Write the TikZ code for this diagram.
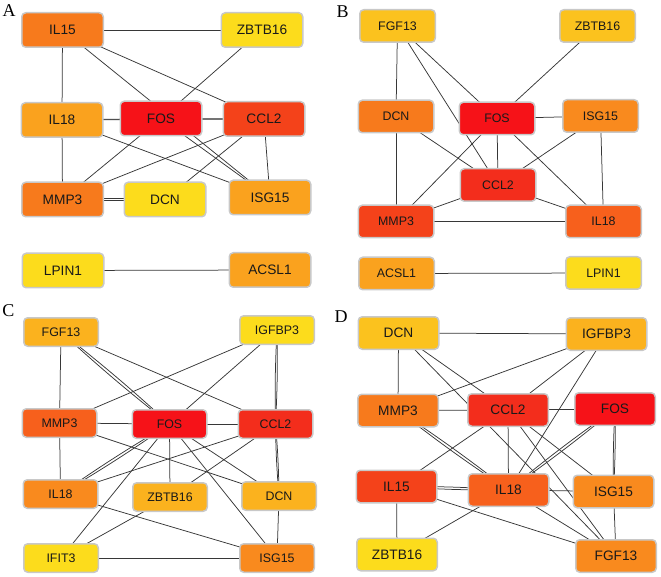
\documentclass[tikz,border=0pt]{standalone}
\usepackage{fontspec}
\setsansfont{Liberation Sans}
\newfontfamily\letterfont{Liberation Serif}
\usepackage{xcolor}
\usepackage{tikz}
\usetikzlibrary{backgrounds}
\definecolor{rim}{RGB}{200,200,200}
\definecolor{wire}{RGB}{55,55,55}
\definecolor{heatA}{RGB}{246,18,24}
\definecolor{heatB}{RGB}{243,45,28}
\definecolor{heatC}{RGB}{244,66,26}
\definecolor{heatD}{RGB}{247,96,28}
\definecolor{heatE}{RGB}{247,122,28}
\definecolor{heatF}{RGB}{249,138,30}
\definecolor{heatG}{RGB}{250,162,30}
\definecolor{heatH}{RGB}{251,178,30}
\definecolor{heatI}{RGB}{251,194,30}
\definecolor{heatJ}{RGB}{252,220,28}
\tikzset{
gene/.style={
draw=rim,
line width=1.5pt,
rounded corners=4pt,
minimum width=81.5pt,
minimum height=34.5pt,
inner sep=0pt,
align=center,
text=black!90,
font=\sffamily\fontsize{13.7}{16}\selectfont
},
smallgene/.style={
gene,
minimum width=75.5pt,
minimum height=32.5pt,
font=\sffamily\fontsize{12.4}{15}\selectfont
},
link/.style={
draw=wire,
line width=0.75pt
},
panel/.style={
inner sep=0pt,
font=\letterfont\fontsize{18}{20}\selectfont
}
}
\begin{document}
\begin{tikzpicture}[x=1pt,y=-1pt]
\useasboundingbox (0,0) rectangle (661,577);

\node[panel] at (9,11) {A};
\node[gene,fill=heatE](aIL15) at (62.5,30) {IL15};
\node[gene,fill=heatJ](aZBTB16) at (262,30) {ZBTB16};
\node[gene,fill=heatG](aIL18) at (62,120) {IL18};
\node[gene,fill=heatA](aFOS) at (161,118.5) {FOS};
\node[gene,fill=heatC](aCCL2) at (264,119) {CCL2};
\node[gene,fill=heatE](aMMP3) at (62.5,199.5) {MMP3};
\node[gene,fill=heatJ](aDCN) at (165,199.5) {DCN};
\node[gene,fill=heatG](aISG15) at (270,197.5) {ISG15};
\node[gene,fill=heatJ](aLPIN1) at (63,270.5) {LPIN1};
\node[gene,fill=heatG](aACSL1) at (270,270) {ACSL1};

\node[panel] at (342.5,11.5) {B};
\node[smallgene,fill=heatI](bFGF13) at (397.5,26) {FGF13};
\node[smallgene,fill=heatI](bZBTB16) at (597.5,26) {ZBTB16};
\node[smallgene,fill=heatE](bDCN) at (396,116.5) {DCN};
\node[smallgene,fill=heatA](bFOS) at (497,118.5) {FOS};
\node[smallgene,fill=heatF](bISG15) at (600.5,116) {ISG15};
\node[smallgene,fill=heatB](bCCL2) at (498,185) {CCL2};
\node[smallgene,fill=heatC](bMMP3) at (396,221.5) {MMP3};
\node[smallgene,fill=heatD](bIL18) at (603.5,221.5) {IL18};
\node[smallgene,fill=heatG](bACSL1) at (396.5,273.5) {ACSL1};
\node[smallgene,fill=heatJ](bLPIN1) at (603.5,273) {LPIN1};

\begin{scope}[smallgene/.append style={minimum width=74.5pt,minimum height=28.5pt}]
\node[panel] at (8.5,310.5) {C};
\node[smallgene,fill=heatH](cFGF13) at (61,332) {FGF13};
\node[smallgene,fill=heatJ](cIGFBP3) at (277,330) {IGFBP3};
\node[smallgene,fill=heatD](cMMP3) at (59.5,423) {MMP3};
\node[smallgene,fill=heatA](cFOS) at (169.5,424) {FOS};
\node[smallgene,fill=heatB](cCCL2) at (275.5,424) {CCL2};
\node[smallgene,fill=heatF](cIL18) at (60.5,494) {IL18};
\node[smallgene,fill=heatH](cZBTB16) at (170,497) {ZBTB16};
\node[smallgene,fill=heatH](cDCN) at (279,496) {DCN};
\node[smallgene,fill=heatJ](cIFIT3) at (61,558) {IFIT3};
\node[smallgene,fill=heatF](cISG15) at (277,558) {ISG15};
\end{scope}

\begin{scope}[gene/.append style={minimum width=80.5pt,minimum height=32.5pt}]
\node[panel] at (341,316.5) {D};
\node[gene,fill=heatI](dDCN) at (398.5,333) {DCN};
\node[gene,fill=heatH](dIGFBP3) at (606.5,334) {IGFBP3};
\node[gene,fill=heatE](dMMP3) at (398,410.5) {MMP3};
\node[gene,fill=heatB](dCCL2) at (508,410) {CCL2};
\node[gene,fill=heatA](dFOS) at (615,409) {FOS};
\node[gene,fill=heatC](dIL15) at (396.5,486.5) {IL15};
\node[gene,fill=heatD](dIL18) at (508.5,490) {IL18};
\node[gene,fill=heatF](dISG15) at (613.5,491.5) {ISG15};
\node[gene,fill=heatJ](dZBTB16) at (397,554.5) {ZBTB16};
\node[gene,fill=heatF](dFGF13) at (616,556) {FGF13};
\end{scope}

\begin{pgfonlayer}{background}
\foreach \x/\y in {aIL15/aZBTB16,aIL15/aIL18,aIL15/aISG15,aIL15/aCCL2,aZBTB16/aFOS,aIL18/aFOS,aFOS/aCCL2,aIL18/aCCL2,aIL18/aMMP3,aIL18/aISG15,aFOS/aMMP3,aFOS/aISG15,aCCL2/aMMP3,aCCL2/aDCN,aCCL2/aISG15,aLPIN1/aACSL1,
bFGF13/bDCN,bFGF13/bFOS,bFGF13/bCCL2,bZBTB16/bFOS,bFOS/bISG15,bDCN/bMMP3,bDCN/bCCL2,bFOS/bCCL2,bFOS/bMMP3,bFOS/bIL18,bISG15/bCCL2,bISG15/bIL18,bCCL2/bMMP3,bCCL2/bIL18,bMMP3/bIL18,bACSL1/bLPIN1,
cFGF13/cMMP3,cFGF13/cCCL2,cIGFBP3/cMMP3,cIGFBP3/cFOS,cMMP3/cFOS,cFOS/cCCL2,cMMP3/cIL18,cMMP3/cDCN,cFOS/cIFIT3,cFOS/cZBTB16,cFOS/cISG15,cFOS/cDCN,cCCL2/cIL18,cCCL2/cZBTB16,cIL18/cISG15,cZBTB16/cIFIT3,cDCN/cISG15,cIFIT3/cISG15,
dDCN/dIGFBP3,dDCN/dMMP3,dDCN/dCCL2,dDCN/dFGF13,dIGFBP3/dMMP3,dIGFBP3/dCCL2,dIGFBP3/dIL18,dMMP3/dCCL2,dCCL2/dFOS,dCCL2/dIL15,dCCL2/dIL18,dCCL2/dISG15,dCCL2/dFGF13,dIL18/dISG15,dIL18/dFGF13,dIL18/dZBTB16,dIL15/dZBTB16,dIL15/dFGF13,dISG15/dFGF13}
\draw[link](\x.center)--(\y.center);

\foreach \x/\y in {aMMP3/aDCN,cFGF13/cFOS,cIGFBP3/cCCL2,cFOS/cIL18,cCCL2/cDCN,dMMP3/dIL18,dFOS/dIL18,dFOS/dISG15,dIL15/dIL18}
{\draw[link](\x.center) to[bend left=2] (\y.center);
\draw[link](\x.center) to[bend right=2] (\y.center);}
\end{pgfonlayer}
\end{tikzpicture}
\end{document}
